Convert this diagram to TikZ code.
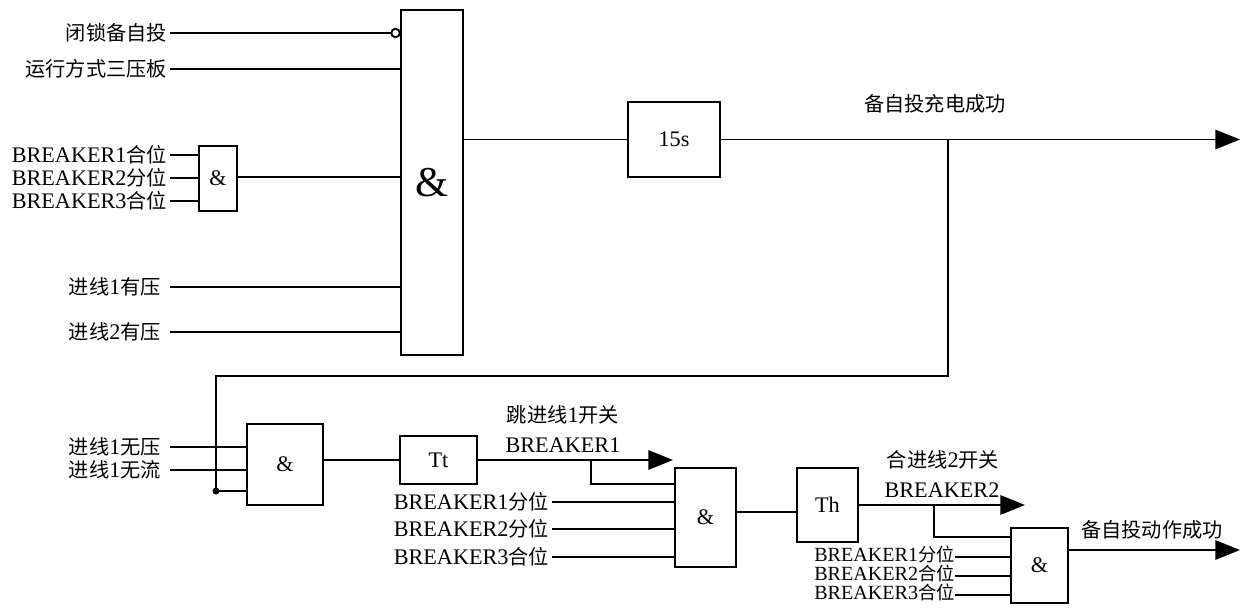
\documentclass[tikz,border=0pt]{standalone}
\usepackage{fontspec}
\setmainfont{Liberation Serif}[Scale=1.1]
\newfontfamily\zh{Noto Sans CJK SC}
\newcommand{\cn}[1]{{\zh #1}}
\usetikzlibrary{arrows.meta,positioning,calc}
\tikzset{
  andgate/.style={draw, line width=1.1pt, inner sep=0pt, font=\fontsize{11.5}{13}\selectfont},
  delay/.style={draw, line width=1.1pt, inner sep=0pt, font=\fontsize{11.5}{13}\selectfont},
  lbl/.style={inner sep=1.5pt, font=\fontsize{11.5}{13}\selectfont},
  lblgap/.style={lbl, inner xsep=5pt},
  tight/.style={lbl, inner sep=0pt, text height=7pt, text depth=1.5pt, font=\fontsize{10.4}{11}\selectfont},
  wire/.style={line width=1.1pt},
  sig/.style={line width=1.1pt, -{Triangle[length=14pt,width=11pt]}},
}

\begin{document}
\begin{tikzpicture}[x=0.02cm,y=-0.02cm]
    \useasboundingbox (0,0) rectangle (1251,615);
    % charging logic
    \node[andgate, minimum width=1.24cm, minimum height=6.9cm, font=\fontsize{22}{24}\selectfont] (and1) at (432,182.5) {\&};
    \node[andgate, minimum width=0.76cm, minimum height=1.3cm] (and0) at (218,178.5) {\&};
    \node[delay, minimum width=1.84cm, minimum height=1.5cm] (t15) at (674,139.5) {15s};
    \node[lbl, anchor=east] (blk) at (170,33) {\cn{闭锁备自投}};
    \node[lbl, anchor=east] (mode) at (170,69) {\cn{运行方式三压板}};
    \coordinate (neg) at ($(blk.east -| and1.west)+(-4.5,0)$);
    \draw[wire] (blk.east) -- ($(neg)+(-4.5,0)$);
    \draw[wire, fill=white] (neg) circle[radius=0.085cm];
    \draw[wire] (mode.east) -- (mode.east -| and1.west);
    \foreach \y/\txt/\n in {155/{BREAKER1\cn{合位}}/ba, 178/{BREAKER2\cn{分位}}/bb, 201/{BREAKER3\cn{合位}}/bc} {
      \node[lbl, anchor=east] (\n) at (170,\y) {\txt};
      \draw[wire] (\n.east) -- (\n.east -| and0.west);
    }
    \draw[wire] (and0.east |- 0,177) -- (and1.west |- 0,177);
    \foreach \y/\txt/\n in {287/{\cn{进线}1\cn{有压}}/uv1, 332/{\cn{进线}2\cn{有压}}/uv2} {
      \node[lblgap, anchor=east] (\n) at (170,\y) {\txt};
      \draw[wire] (\n.east) -- (\n.east -| and1.west);
    }
    \draw[wire] (and1.east |- t15.west) -- (t15.west);
    \coordinate (chg) at (1240,139.5);
    \draw[sig] (t15.east) -- (chg);
    \node[lbl] (chglbl) at (935,104) {\cn{备自投充电成功}};
    % feedback into the trip gate
    \coordinate (br1) at (948,139.5);
    \coordinate (loop) at (216,376);
    \coordinate (fb) at (216,491);
    % action logic
    \node[andgate, minimum width=1.52cm, minimum height=1.62cm] (andA) at (285,464.5) {\&};
    \node[delay, minimum width=1.54cm, minimum height=0.96cm] (tt) at (438.5,460) {Tt};
    \foreach \y/\txt/\n in {447/{\cn{进线}1\cn{无压}}/nv, 470/{\cn{进线}1\cn{无流}}/ni} {
      \node[lblgap, anchor=east] (\n) at (170,\y) {\txt};
      \draw[wire] (\n.east) -- (\n.east -| andA.west);
    }
    \draw[wire] (br1) |- (loop) -- (fb) -- (fb -| andA.west);
    \fill (fb) circle[radius=0.07cm];
    \draw[wire] (andA.east |- tt.west) -- (tt.west);
    \coordinate (trip) at (673,460);
    \draw[sig] (tt.east) -- (trip);
    \node[lbl] (triplbl) at (563,415) {\cn{跳进线}1\cn{开关}};
    \node[lbl] (tripbrk) at (563,445) {BREAKER1};
    \node[andgate, minimum width=1.22cm, minimum height=1.98cm] (andB) at (705.5,517.5) {\&};
    \coordinate (br2) at (591,460);
    \draw[wire] (br2) |- (andB.west |- 0,484);
    \foreach \y/\txt/\n in {502/{BREAKER1\cn{分位}}/pa, 529/{BREAKER2\cn{分位}}/pb, 557/{BREAKER3\cn{合位}}/pc} {
      \node[lbl, anchor=east] (\n) at (552,\y) {\txt};
      \draw[wire] (\n.east) -- (\n.east -| andB.west);
    }
    \node[delay, minimum width=1.22cm, minimum height=1.48cm] (th) at (827.5,505) {Th};
    \draw[wire] (andB.east |- 0,512) -- (th.west |- 0,512);
    \coordinate (close) at (1025,505);
    \draw[sig] (th.east) -- (close);
    \node[lbl] (closelbl) at (943,460) {\cn{合进线}2\cn{开关}};
    \node[lbl] (closebrk) at (942,490) {BREAKER2};
    \node[andgate, minimum width=1.14cm, minimum height=1.5cm] (andC) at (1039.5,565.5) {\&};
    \coordinate (br3) at (934,505);
    \draw[wire] (br3) |- (andC.west |- 0,537);
    \foreach \y/\txt/\n in {557/{BREAKER1\cn{分位}}/qa, 576/{BREAKER2\cn{合位}}/qb, 595/{BREAKER3\cn{合位}}/qc} {
      \node[tight, anchor=east] (\n) at (955,\y) {\txt};
      \draw[wire] (\n.east) -- (\n.east -| andC.west);
    }
    \coordinate (done) at (1240,550);
    \draw[sig] (andC.east |- done) -- (done);
    \node[lbl] (donelbl) at (1152,530) {\cn{备自投动作成功}};
\end{tikzpicture}
\end{document}
